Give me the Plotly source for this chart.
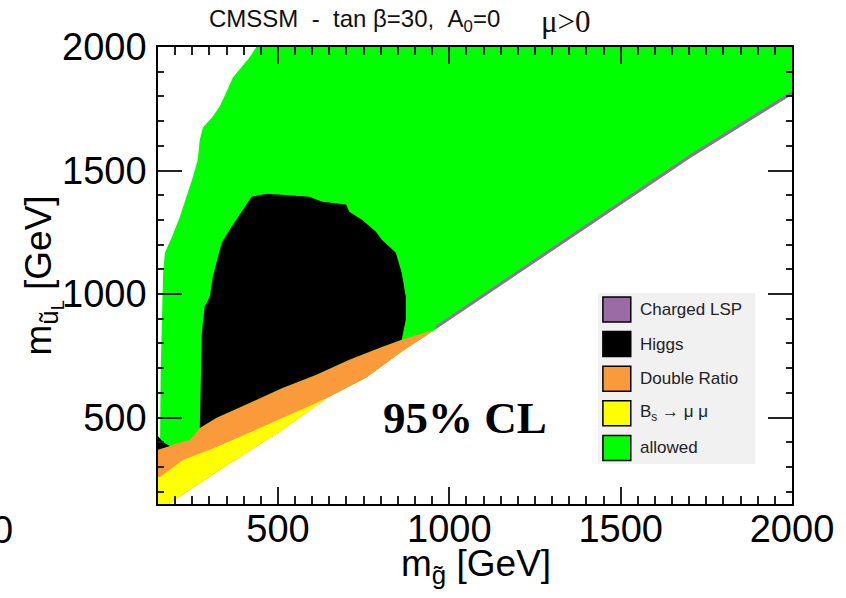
import plotly.graph_objects as go

# ---------------------------------------------------------------------------
# CMSSM exclusion regions in the (m_gluino, m_uL) plane, tan(beta)=30, A0=0
# All contours are given in GeV.
# ---------------------------------------------------------------------------

# Kinematic edge (lower-right boundary of the scanned region)
edge_x = [182, 199, 330, 513, 644, 757, 861, 949, 1704, 2000]
edge_y = [150, 166, 288, 450, 580, 661, 766, 847, 1552, 1807]

# Upper-left boundary of the allowed (green) region
allowed_edge_x = [437, 417, 388, 368, 353, 330, 307, 281, 272, 266, 252, 234,
                  214, 191, 170, 165, 162, 158, 156]
allowed_edge_y = [2000, 1957, 1909, 1876, 1828, 1759, 1714, 1674, 1625, 1544,
                  1475, 1394, 1313, 1232, 1167, 1086, 924, 700, 409]

# Upper boundary of the "Double Ratio" exclusion band
dr_top_x = [150, 176, 199, 243, 272, 321, 417, 513, 612, 708, 803, 861, 949]
dr_top_y = [369, 381, 393, 409, 458, 499, 559, 620, 673, 734, 786, 815, 852]

# Upper boundary of the Bs -> mu mu exclusion band
bs_top_x = [150, 156, 223, 321, 417, 513, 612, 644]
bs_top_y = [259, 259, 328, 381, 438, 498, 559, 580]

# Higgs exclusion: outline from the lower-left corner, over the top, down the right side
higgs_x = [272, 275, 278, 286, 301, 310, 336, 359, 397, 423, 467, 513, 591,
           629, 699, 708, 745, 786, 803, 844, 861, 873, 873, 867, 861]
higgs_y = [458, 640, 843, 948, 989, 1070, 1208, 1260, 1341, 1394, 1406, 1402,
           1394, 1374, 1362, 1333, 1301, 1252, 1220, 1167, 1086, 989, 896, 855,
           815]
# small Higgs-excluded patch at the left border
higgs_patch_x = [150, 165, 185, 150]
higgs_patch_y = [425, 400, 385, 370]

# Charged-LSP strip along the kinematic edge
lsp_x = [960, 1704, 2000]
lsp_lo = [857, 1552, 1807]
lsp_hi = [871, 1566, 1821]

# Legend entries
legend_labels = ["Charged LSP", "Higgs", "Double Ratio",
                 "B<sub>s</sub> \u2192 \u03bc \u03bc", "allowed"]

C_LSP = "#9a6ba5"
C_HIGGS = "#000000"
C_DR = "#fb9a3a"
C_BS = "#ffff00"
C_OK = "#00ff00"
legend_colors = [C_LSP, C_HIGGS, C_DR, C_BS, C_OK]

X_RANGE = [150, 2000]
Y_RANGE = [150, 2000]

W, H = 846, 598
ML, MR, MT, MB = 158, 51, 47, 94
PW, PH = W - ML - MR, H - MT - MB


def px(xp):
    return (xp - ML) / PW


def py(yp):
    return (H - MB - yp) / PH


def region(xs, ys, color):
    return go.Scatter(x=xs, y=ys, mode="lines", fill="toself", fillcolor=color,
                      line=dict(width=0, color=color), hoverinfo="skip",
                      showlegend=False)


fig = go.Figure()

# allowed region: upper-left boundary, left border, kinematic edge, right border
g_x = allowed_edge_x + [150, 150] + edge_x + [2000]
g_y = allowed_edge_y + [400, 150] + edge_y + [2000]
fig.add_trace(region(g_x, g_y, C_OK))

# Double Ratio band: its upper edge, then down the kinematic edge, up the left border
i_dr = edge_x.index(949)
o_x = dr_top_x + edge_x[i_dr::-1] + [150]
o_y = dr_top_y + edge_y[i_dr::-1] + [150]
fig.add_trace(region(o_x, o_y, C_DR))

# Bs -> mu mu band
i_bs = edge_x.index(644)
b_x = [150] + bs_top_x + edge_x[i_bs::-1]
b_y = [150] + bs_top_y + edge_y[i_bs::-1]
fig.add_trace(region(b_x, b_y, C_BS))

# Higgs region, closed along the Double Ratio upper edge
j0, j1 = dr_top_x.index(272), dr_top_x.index(861)
h_x = higgs_x + dr_top_x[j1:j0:-1]
h_y = higgs_y + dr_top_y[j1:j0:-1]
fig.add_trace(region(h_x, h_y, C_HIGGS))
fig.add_trace(region(higgs_patch_x, higgs_patch_y, C_HIGGS))

# Charged LSP strip
fig.add_trace(region(lsp_x + lsp_x[::-1], lsp_lo + lsp_hi[::-1], C_LSP))

AX_FONT = dict(family="Liberation Sans, Arial, sans-serif", size=38, color="black")

fig.update_xaxes(range=X_RANGE, showgrid=False, zeroline=False, showline=True,
                 linecolor="black", linewidth=1.5, mirror="ticks",
                 ticks="inside", ticklen=17, tickwidth=1.6, tickcolor="#222",
                 tick0=0, dtick=500, tickfont=AX_FONT, ticklabelstandoff=-9,
                 minor=dict(ticks="inside", dtick=50, ticklen=8,
                            tickcolor="#222", tickwidth=1.6))
fig.update_yaxes(range=Y_RANGE, showgrid=False, zeroline=False, showline=True,
                 linecolor="black", linewidth=1.5, mirror="ticks",
                 ticks="inside", ticklen=24, tickwidth=1.6, tickcolor="#222",
                 tick0=0, dtick=500, tickfont=AX_FONT, ticklabelstandoff=2,
                 minor=dict(ticks="inside", dtick=100, ticklen=6,
                            tickcolor="#222", tickwidth=1.6))

ann = []
SANS = "Liberation Sans, Arial, sans-serif"
SERIF = "Liberation Serif, Times New Roman, serif"
NB = "\u00a0"

# title pieces
ann.append(dict(text=f"CMSSM{NB}{NB}-{NB}{NB}tan{NB}\u03b2=30,{NB}{NB}A<sub>0</sub>=0",
                x=px(207), y=py(21), xref="paper", yref="paper", xanchor="left",
                yanchor="middle", showarrow=False,
                font=dict(family=SANS, size=24, color="#111")))
ann.append(dict(text="\u03bc>0", x=px(541), y=py(22), xref="paper", yref="paper",
                xanchor="left", yanchor="middle", showarrow=False,
                font=dict(family=SERIF, size=31, color="#111")))

# axis titles
ann.append(dict(text="m<sub>g\u0303</sub> [GeV]", x=px(478), y=py(566),
                xref="paper", yref="paper", xanchor="center", yanchor="middle",
                showarrow=False, font=dict(family=SANS, size=37, color="black")))
ann.append(dict(text="m<sub>\u0169<sub>L</sub></sub> [GeV]", x=px(42), y=py(276),
                xref="paper", yref="paper", xanchor="center", yanchor="middle",
                textangle=-90, showarrow=False,
                font=dict(family=SANS, size=37, color="black")))

# stray axis label at the lower-left corner
ann.append(dict(text="0", x=px(14), y=py(530), xref="paper", yref="paper",
                xanchor="right", yanchor="middle", showarrow=False,
                font=AX_FONT))

# confidence level label
ann.append(dict(text="<b>95% CL</b>", x=px(466), y=py(418), xref="paper",
                yref="paper", xanchor="center", yanchor="middle",
                showarrow=False, font=dict(family=SERIF, size=45, color="black")))

# legend box
shapes = [dict(type="rect", xref="paper", yref="paper", x0=px(600), x1=px(758),
               y0=py(464), y1=py(293), fillcolor="#f1f1f1", line=dict(width=0),
               layer="above")]
for k, (lab, col) in enumerate(zip(legend_labels, legend_colors)):
    yc = 309.5 + k * 34.6
    shapes.append(dict(type="rect", xref="paper", yref="paper",
                       x0=px(605), x1=px(633), y0=py(yc + 12.5), y1=py(yc - 12.5),
                       fillcolor=col, line=dict(color="black", width=1.5),
                       layer="above"))
    ann.append(dict(text=lab, x=px(640), y=py(yc), xref="paper", yref="paper",
                    xanchor="left", yanchor="middle", showarrow=False,
                    font=dict(family=SANS, size=17, color="#222")))

fig.update_layout(width=W, height=H, margin=dict(l=ML, r=MR, t=MT, b=MB),
                  plot_bgcolor="white", paper_bgcolor="white",
                  annotations=ann, shapes=shapes, showlegend=False)

fig.write_html("out.html")
